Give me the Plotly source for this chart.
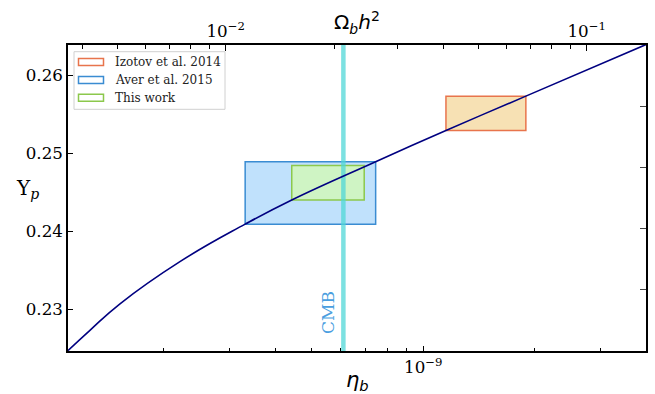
import plotly.graph_objects as go

# ---- data -------------------------------------------------------------
# Primordial helium mass fraction Y_p as a function of baryon-to-photon ratio
curve_eta = [1.102e-10, 1.263e-10, 1.522e-10, 2.208e-10, 3.31e-10, 4.42e-10,
             7.44e-10, 1.151e-9, 1.89e-9, 3.98e-9]
curve_yp = [0.2247, 0.2273, 0.2307, 0.2361, 0.2409, 0.2440,
            0.2489, 0.2529, 0.2573, 0.2639]

# Measurement boxes: [eta_min, eta_max], [Yp_min, Yp_max]
izotov_eta = [1.151e-9, 1.89e-9]
izotov_yp = [0.2529, 0.2573]
aver_eta = [3.31e-10, 7.44e-10]
aver_yp = [0.2409, 0.2489]
this_eta = [4.42e-10, 6.93e-10]
this_yp = [0.2440, 0.2484]

cmb_eta = 6.09e-10

series_names = ["Izotov et al. 2014", "Aver et al. 2015", "This work"]

y_ticks = [0.23, 0.24, 0.25, 0.26]
y_tick_text = ["0.23", "0.24", "0.25", "0.26"]
eta_ticks = [1e-9]
eta_tick_text = ["10<sup>−9</sup>"]
eta_minor = [2e-10, 3e-10, 4e-10, 5e-10, 6e-10, 7e-10, 8e-10, 9e-10, 2e-9, 3e-9]
omega_ticks = [1e-2, 1e-1]
omega_tick_text = ["10<sup>−2</sup>", "10<sup>−1</sup>"]
omega_minor = [4e-3, 5e-3, 6e-3, 7e-3, 8e-3, 9e-3,
               2e-2, 3e-2, 4e-2, 5e-2, 6e-2, 7e-2, 8e-2, 9e-2]
twin_ticks = [0.2, 0.4, 0.6, 0.8]

# ---- layout geometry ----------------------------------------------------
W, H = 655, 394
L, R, T, B = 68, 646, 45, 351
SERIF = "DejaVu Serif"
SANS = "DejaVu Sans"


def px(x):
    return (x - L) / (R - L)


def py(y):
    return (B - y) / (B - T)


def box(xr, yr):
    return ([xr[0], xr[1], xr[1], xr[0], xr[0]],
            [yr[0], yr[0], yr[1], yr[1], yr[0]])


styles = [
    dict(line="#e8744c", fill="rgba(242,205,130,0.6)"),
    dict(line="#3a8cd2", fill="rgba(140,200,250,0.55)"),
    dict(line="#8cc84c", fill="rgba(208,246,190,0.9)"),
]

fig = go.Figure()

for (xr, yr), st, name in zip([(izotov_eta, izotov_yp), (aver_eta, aver_yp), (this_eta, this_yp)],
                              styles, series_names):
    bx, by = box(xr, yr)
    fig.add_trace(go.Scatter(x=bx, y=by, mode="lines", fill="toself",
                             fillcolor=st["fill"], line=dict(color=st["line"], width=1.5),
                             name=name, showlegend=False, hoverinfo="skip"))

# CMB value
fig.add_trace(go.Scatter(x=[cmb_eta, cmb_eta], y=[0.2, 0.3], mode="lines",
                         line=dict(color="rgba(80,215,215,0.75)", width=4.5),
                         showlegend=False, hoverinfo="skip"))

# BBN prediction
fig.add_trace(go.Scatter(x=curve_eta, y=curve_yp, mode="lines",
                         line=dict(color="#000080", width=1.6, shape="spline", smoothing=1.3),
                         showlegend=False))

# placeholders so the twin axes are drawn
fig.add_trace(go.Scatter(x=[None], y=[None], xaxis="x2", yaxis="y", showlegend=False))
fig.add_trace(go.Scatter(x=[None], y=[None], xaxis="x", yaxis="y2", showlegend=False))

tickfont = dict(family=SERIF, size=16.7, color="black")

fig.update_layout(
    width=W, height=H,
    margin=dict(l=L, r=W - R, t=T, b=H - B),
    paper_bgcolor="white", plot_bgcolor="white",
    showlegend=False,
    xaxis=dict(type="log", range=[-9.9577, -8.3997], showgrid=False, zeroline=False,
               showline=True, linecolor="black", linewidth=1.5,
               tickvals=eta_ticks, ticktext=eta_tick_text, ticks="inside", ticklen=5,
               tickwidth=1, tickcolor="black", tickfont=tickfont,
               minor=dict(tickvals=eta_minor, ticks="inside", ticklen=3, tickwidth=1,
                          tickcolor="black", showgrid=False)),
    xaxis2=dict(type="log", range=[-2.4368, -0.8357], overlaying="x", side="top",
                anchor="y", showgrid=False, zeroline=False,
                showline=True, linecolor="black", linewidth=1.5,
                tickvals=omega_ticks, ticktext=omega_tick_text, ticks="inside", ticklen=6,
                tickwidth=1, tickcolor="black", tickfont=tickfont,
                minor=dict(tickvals=omega_minor, ticks="inside", ticklen=4, tickwidth=1,
                           tickcolor="black", showgrid=False)),
    yaxis=dict(range=[0.22465, 0.26385], showgrid=False, zeroline=False,
               showline=True, linecolor="black", linewidth=1.5,
               tickvals=y_ticks, ticktext=y_tick_text, ticks="inside", ticklen=5,
               tickwidth=1, tickcolor="black", tickfont=tickfont),
    yaxis2=dict(range=[0, 1], overlaying="y", side="right", anchor="x",
                showgrid=False, zeroline=False, showline=True, linecolor="black",
                linewidth=1.5, tickvals=twin_ticks, showticklabels=False,
                ticks="inside", ticklen=6, tickwidth=1, tickcolor="#444"),
)

annotations = [
    dict(text="Ω<sub><i>b</i></sub><i>h</i><sup>2</sup>", x=px(357), y=py(22),
         font=dict(family=SANS, size=20, color="black")),
    dict(text="<i>η</i><sub><i>b</i></sub>", x=px(357), y=py(381),
         font=dict(family=SANS, size=21, color="black")),
    dict(text="Y<sub><i>p</i></sub>", x=px(27), y=py(189),
         font=dict(family=SERIF, size=20, color="black")),
    dict(text="CMB", x=px(328), y=py(313), textangle=-90,
         font=dict(family=SERIF, size=17, color="#4a9ee0")),
]

# legend drawn as a framed box with outlined patches
shapes = [dict(type="rect", xref="paper", yref="paper",
               x0=px(74), x1=px(225), y0=py(109.3), y1=py(51.7),
               line=dict(color="#d0d0d0", width=1), fillcolor="rgba(255,255,255,0.85)",
               layer="above")]
row_y = [62, 80, 97.7]
for ry, st, name in zip(row_y, styles, series_names):
    shapes.append(dict(type="rect", xref="paper", yref="paper",
                       x0=px(78.5), x1=px(103.5), y0=py(ry + 3.5), y1=py(ry - 3.5),
                       line=dict(color=st["line"], width=1.5), fillcolor="white",
                       layer="above"))
    annotations.append(dict(text=name, x=px(113), y=py(ry), xanchor="left",
                            font=dict(family=SERIF, size=12, color="#222")))

for a in annotations:
    a.setdefault("xref", "paper")
    a.setdefault("yref", "paper")
    a.setdefault("showarrow", False)
    a.setdefault("xanchor", "center")
    a.setdefault("yanchor", "middle")

fig.update_layout(annotations=annotations, shapes=shapes)

fig.write_html("out.html")
